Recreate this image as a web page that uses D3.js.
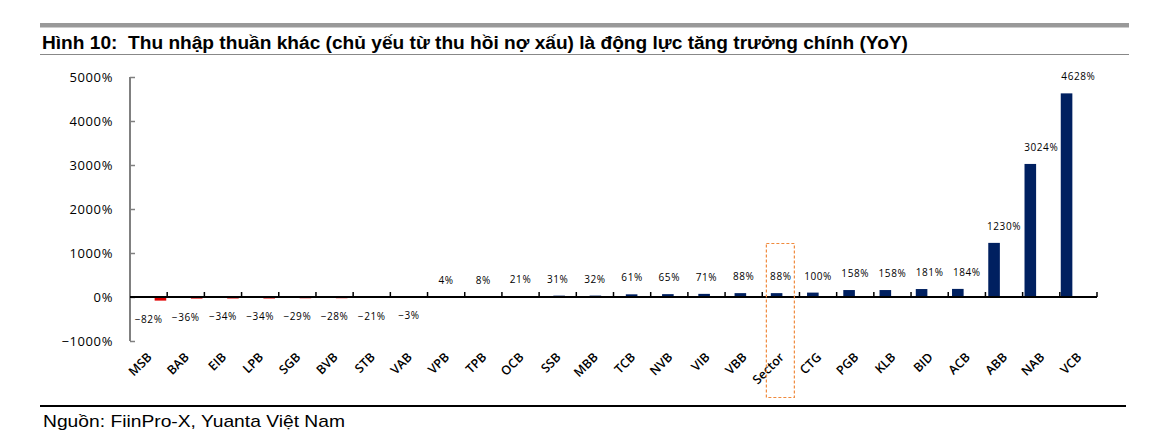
<!DOCTYPE html>
<html>
<head>
<meta charset="UTF-8">
<title>Hình 10</title>
<script src="https://cdn.jsdelivr.net/npm/d3@7"></script>
<style>
  body { margin: 0; background: #fff; }
  svg { display: block; }
</style>
</head>
<body>
<svg width="1170" height="441"></svg>
<script>
  var categories = ["MSB","BAB","EIB","LPB","SGB","BVB","STB","VAB","VPB","TPB","OCB","SSB","MBB","TCB","NVB","VIB","VBB","Sector","CTG","PGB","KLB","BID","ACB","ABB","NAB","VCB"];
  var values = [-82,-36,-34,-34,-29,-28,-21,-3,4,8,21,31,32,61,65,71,88,88,100,158,158,181,184,1230,3024,4628];
  var yTicks = [-1000,0,1000,2000,3000,4000,5000];
  var highlight = "Sector";

  var svg = d3.select("svg");
  var pct = function(d){ return (d < 0 ? "\u2212" + Math.abs(d) : d) + "%"; };

  // khung tiêu đề
  svg.append("rect").attr("x",40).attr("y",23).attr("width",1089).attr("height",4.5).attr("fill","#999999");
  svg.append("text")
    .attr("x",42).attr("y",49)
    .attr("font-family","Liberation Sans, Arial, sans-serif")
    .attr("font-weight","bold").attr("font-size",17.5).attr("fill","#000")
    .attr("textLength",866).attr("lengthAdjust","spacingAndGlyphs")
    .style("white-space","pre")
    .text("Hình 10:  Thu nhập thuần khác (chủ yếu từ thu hồi nợ xấu) là động lực tăng trưởng chính (YoY)");
  svg.append("line").attr("x1",40).attr("x2",1129).attr("y1",54.5).attr("y2",54.5)
    .attr("stroke","#888").attr("stroke-width",1);

  // thang đo
  var x = d3.scaleBand().domain(categories).range([130,1097]).padding(0.68);
  var xb = d3.scaleBand().domain(categories).range([130,1097]).padding(0);
  var y = d3.scaleLinear().domain([-1000,5000]).range([341,77]);

  var g = svg.append("g");

  // cột
  g.selectAll(".bar").data(values).enter().append("rect")
    .attr("class","bar")
    .attr("x",function(d,i){ return x(categories[i]); })
    .attr("width",x.bandwidth())
    .attr("y",function(d){ return y(Math.max(0,d)); })
    .attr("height",function(d){ return Math.abs(y(d)-y(0)); })
    .attr("fill",function(d){ return d < 0 ? "#e00000" : "#002060"; });

  // trục y
  var yAxis = g.append("g").attr("transform","translate(130,0)")
    .call(d3.axisRight(y).tickValues(yTicks).tickSize(5).tickFormat(pct));
  yAxis.select(".domain").attr("stroke","#808080").attr("stroke-width",2).attr("d","M0,77V341");
  yAxis.selectAll(".tick line").attr("stroke","#808080").attr("stroke-width",1.5);
  yAxis.selectAll(".tick text")
    .attr("x",-17).attr("text-anchor","end")
    .attr("font-family","Open Sans, sans-serif").attr("font-size",13)
    .attr("letter-spacing","0.6px").attr("fill","#000").attr("dy","0.35em");

  // trục x
  var xAxis = g.append("g").attr("transform","translate(0,"+y(0)+")");
  xAxis.append("line").attr("x1",130).attr("x2",1097).attr("stroke","#000").attr("stroke-width",2);
  xAxis.selectAll(".xt").data(categories).enter().append("line")
    .attr("class","xt")
    .attr("x1",function(d){ return xb(d)+xb.bandwidth(); })
    .attr("x2",function(d){ return xb(d)+xb.bandwidth(); })
    .attr("y1",0).attr("y2",-5)
    .attr("stroke","#000").attr("stroke-width",1.5);

  g.selectAll(".xl").data(categories).enter().append("text")
    .attr("class","xl")
    .attr("transform",function(d){ return "translate("+(xb(d)+xb.bandwidth()/2+4)+",358) rotate(-45)"; })
    .attr("text-anchor","end")
    .attr("font-family","Open Sans, sans-serif").attr("font-size",12.5).attr("font-weight",600)
    .attr("fill","#000")
    .text(function(d){ return d; });

  // nhãn giá trị
  g.selectAll(".vl").data(values).enter().append("text")
    .attr("class","vl")
    .attr("x",function(d,i){ return xb(categories[i])+xb.bandwidth()/2; })
    .attr("y",function(d){ return d < 0 ? y(d)+22 : y(d)-13; })
    .attr("text-anchor","middle")
    .attr("font-family","Open Sans, sans-serif").attr("font-size",10)
    .attr("letter-spacing","0.6px").attr("fill","#000")
    .text(pct);

  // khung nhấn mạnh Sector
  var hx = xb(highlight)+xb.bandwidth()/2;
  g.append("rect")
    .attr("x",hx-14.5).attr("y",243.5).attr("width",28).attr("height",154)
    .attr("fill","none").attr("stroke","#f08a3c").attr("stroke-width",1.2)
    .attr("stroke-dasharray","3,2");

  // chân trang
  svg.append("line").attr("x1",40).attr("x2",1126).attr("y1",406).attr("y2",406)
    .attr("stroke","#000").attr("stroke-width",2.2);
  svg.append("text")
    .attr("x",43).attr("y",427)
    .attr("font-family","Liberation Sans, Arial, sans-serif")
    .attr("font-size",17).attr("fill","#000")
    .attr("textLength",302).attr("lengthAdjust","spacingAndGlyphs")
    .text("Nguồn: FiinPro-X, Yuanta Việt Nam");
</script>
</body>
</html>
